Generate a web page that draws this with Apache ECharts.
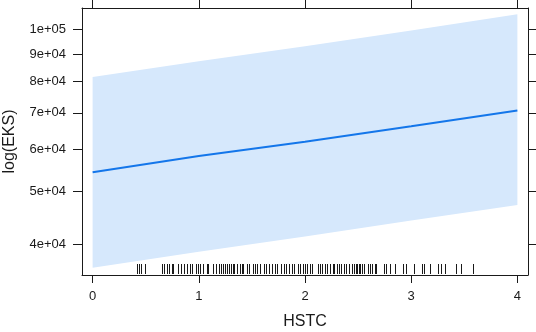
<!DOCTYPE html>
<html lang="en">
<head>
  <meta charset="UTF-8">
  <title>log(EKS) ~ HSTC</title>
  <script src="https://cdn.jsdelivr.net/npm/echarts@6/dist/echarts.min.js"></script>
  <style>
    html, body { margin: 0; padding: 0; background: #fff; }
    #chart { width: 536px; height: 332px; }
  </style>
</head>
<body>
<div id="chart"></div>
<script>
  // effect of HSTC on EKS (log scale), with confidence band
  var hstc = [0, 1, 2, 3, 4];
  var fit = [54300, 58200, 61900, 66100, 70700];
  var lower = [36150, 38700, 41300, 44200, 47240];
  var upper = [81600, 87200, 93000, 99500, 106600];

  var xTicks = [0, 1, 2, 3, 4];
  var yTicks = [40000, 50000, 60000, 70000, 80000, 90000, 100000];
  var yRange = [35040, 109500];

  // rug (observed HSTC values)
  var rugX = [0.42, 0.44, 0.46, 0.49, 0.65, 0.67, 0.70, 0.72, 0.75, 0.76, 0.80, 0.83, 0.86, 0.89,
    0.92, 0.94, 0.97, 0.99, 1.01, 1.04, 1.08, 1.09, 1.13, 1.16, 1.19, 1.21, 1.23, 1.25, 1.27,
    1.28, 1.30, 1.32, 1.33, 1.36, 1.39, 1.41, 1.42, 1.45, 1.47, 1.51, 1.53, 1.55, 1.58, 1.61,
    1.63, 1.66, 1.69, 1.72, 1.74, 1.77, 1.80, 1.82, 1.85, 1.88, 1.90, 1.93, 1.95, 1.98, 2.00,
    2.02, 2.05, 2.07, 2.12, 2.14, 2.16, 2.19, 2.21, 2.24, 2.26, 2.27, 2.30, 2.32, 2.34, 2.37,
    2.39, 2.41, 2.44, 2.46, 2.48, 2.49, 2.51, 2.52, 2.54, 2.56, 2.59, 2.61, 2.63, 2.66, 2.67,
    2.74, 2.76, 2.80, 2.85, 2.92, 2.95, 3.03, 3.10, 3.12, 3.18, 3.25, 3.28, 3.32, 3.42, 3.47, 3.58];

  var lg = function (v) { return Math.log(v) / Math.LN10; };
  var sci = function (v) {
    var n = Math.round(Math.pow(10, v));
    var e = Math.floor(lg(n) + 1e-9);
    var m = Math.round(n / Math.pow(10, e));
    return m + 'e+' + (e < 10 ? '0' + e : e);
  };

  var ink = '#1a1a1a';
  var lineCol = '#1476ea';
  var bandCol = '#d6e8fc';
  var font = 'Liberation Sans, Arial, sans-serif';
  var yMin = lg(yRange[0]), yMax = lg(yRange[1]);

  var xAxisBase = function (pos, showLabel) {
    return {
      type: 'value', position: pos, min: -0.1, max: 4.1,
      axisLine: { show: true, onZero: false, lineStyle: { color: ink, width: 1 } },
      axisTick: { show: true, length: 8, customValues: xTicks, lineStyle: { color: ink } },
      axisLabel: { show: showLabel, customValues: xTicks, color: ink, fontSize: 13, margin: 15,
        fontFamily: font },
      splitLine: { show: false }
    };
  };
  var yAxisBase = function (pos, showLabel) {
    var vals = yTicks.map(lg);
    return {
      type: 'value', position: pos, min: yMin, max: yMax,
      axisLine: { show: true, onZero: false, lineStyle: { color: ink, width: 1 } },
      axisTick: { show: true, length: 9, customValues: vals, lineStyle: { color: ink } },
      axisLabel: { show: showLabel, customValues: vals, color: ink, fontSize: 13, margin: 16,
        fontFamily: font, formatter: sci },
      splitLine: { show: false }
    };
  };

  var xb = xAxisBase('bottom', true);
  xb.name = 'HSTC';
  xb.nameLocation = 'middle';
  xb.nameGap = 39;
  xb.nameMoveOverlap = false;
  xb.nameTextStyle = { color: ink, fontSize: 16, fontFamily: font };
  var yl = yAxisBase('left', true);
  yl.name = 'log(EKS)';
  yl.nameLocation = 'middle';
  yl.nameGap = 64;
  yl.nameMoveOverlap = false;
  yl.nameTextStyle = { color: ink, fontSize: 16, fontFamily: font };

  // confidence band as a polygon through the axis scales
  var bandItem = function (params, api) {
    var pts = [];
    for (var i = 0; i < hstc.length; i++) pts.push(api.coord([hstc[i], lg(upper[i])]));
    for (var j = hstc.length - 1; j >= 0; j--) pts.push(api.coord([hstc[j], lg(lower[j])]));
    return { type: 'polygon', shape: { points: pts }, style: { fill: bandCol } };
  };

  var chart = echarts.init(document.getElementById('chart'), null, { renderer: 'canvas' });
  chart.setOption({
    animation: false,
    grid: { left: 82, right: 8, top: 8, bottom: 57, containLabel: false, outerBoundsMode: 'none' },
    xAxis: [xb, xAxisBase('top', false)],
    yAxis: [yl, yAxisBase('right', false)],
    series: [
      {
        type: 'custom', silent: true, z: 1,
        data: [[0, yMin]],
        renderItem: bandItem
      },
      {
        type: 'line', symbol: 'none', silent: true, z: 3,
        lineStyle: { color: lineCol, width: 2 },
        data: hstc.map(function (x, i) { return [x, lg(fit[i])]; })
      },
      {
        type: 'custom', silent: true, z: 4,
        data: rugX.map(function (x) { return [x, yMin]; }),
        renderItem: function (params, api) {
          var p = api.coord([api.value(0), api.value(1)]);
          var px = Math.round(p[0]) + 0.5;
          return {
            type: 'line',
            shape: { x1: px, y1: p[1] - 1, x2: px, y2: p[1] - 11 },
            style: { stroke: ink, lineWidth: 1 }
          };
        }
      }
    ]
  });
</script>
</body>
</html>
